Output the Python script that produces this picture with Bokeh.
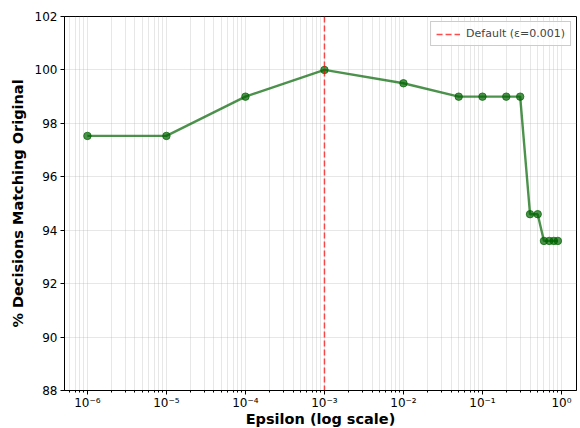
import numpy as np
from bokeh.plotting import figure
from bokeh.models import (FixedTicker, CustomJSTickFormatter, Span, Legend, LegendItem,
                          Range1d)
from bokeh.embed import file_html
from bokeh.resources import INLINE

epsilon = [1e-6, 1e-5, 1e-4, 1e-3, 1e-2, 0.05, 0.1, 0.2, 0.3, 0.4, 0.5, 0.6, 0.7, 0.8, 0.9]
match_pct = [97.53, 97.53, 99.0, 100.0, 99.5, 99.0, 99.0, 99.0, 99.0, 94.6, 94.6, 93.6, 93.6, 93.6, 93.6]
default_eps = 1e-3
x_major = [1e-6, 1e-5, 1e-4, 1e-3, 1e-2, 1e-1, 1e0]
y_ticks = [88, 90, 92, 94, 96, 98, 100, 102]

x_minor = []
for k in range(-7, 1):
    for m in range(2, 10):
        x_minor.append(m * 10.0 ** k)

FONT = "DejaVu Sans"

p = figure(x_axis_type="log",
           x_range=Range1d(10 ** -6.29, 10 ** 0.19), y_range=Range1d(88, 102),
           output_backend="svg", toolbar_location=None,
           min_border_left=64, min_border_top=16, min_border_right=4, min_border_bottom=30)
p.frame_width = 512
p.frame_height = 374
p.outline_line_color = "black"
p.outline_line_width = 1

p.xaxis.ticker = FixedTicker(ticks=x_major, minor_ticks=x_minor)
p.xaxis.formatter = CustomJSTickFormatter(code="""
const e = Math.round(Math.log10(tick));
const sup = {'-':'\u207b','0':'\u2070','1':'\u00b9','2':'\u00b2','3':'\u00b3','4':'\u2074','5':'\u2075','6':'\u2076','7':'\u2077','8':'\u2078','9':'\u2079'};
return '10' + String(e).split('').map(c => sup[c]).join('');
""")
p.yaxis.ticker = FixedTicker(ticks=y_ticks)

for ax in (p.xaxis, p.yaxis):
    ax.major_label_text_font = FONT
    ax.major_label_text_font_size = "12px"
    ax.major_label_text_color = "black"
    ax.axis_label_text_font = FONT
    ax.axis_label_text_font_size = "14.5px"
    ax.axis_label_text_font_style = "bold"
    ax.axis_label_text_color = "black"
    ax.major_tick_in = 0
    ax.major_tick_out = 4
    ax.minor_tick_in = 0
    ax.minor_tick_out = 2
    ax.axis_line_color = "black"
    ax.major_label_standoff = 3
p.xaxis.major_label_standoff = 1
p.yaxis.minor_tick_line_color = None
p.xaxis.axis_label = "Epsilon (log scale)"
p.yaxis.axis_label = "% Decisions Matching Original"
p.xaxis.axis_label_standoff = -2
p.yaxis.axis_label_standoff = 6

p.xgrid.ticker = FixedTicker(ticks=x_major, minor_ticks=x_minor)
p.xgrid.grid_line_color = "#b0b0b0"
p.xgrid.grid_line_alpha = 0.3
p.xgrid.minor_grid_line_color = "#b0b0b0"
p.xgrid.minor_grid_line_alpha = 0.3
p.ygrid.ticker = FixedTicker(ticks=y_ticks)
p.ygrid.grid_line_color = "#b0b0b0"
p.ygrid.grid_line_alpha = 0.3

p.line(epsilon, match_pct, line_color="darkgreen", line_alpha=0.7, line_width=2.4)
p.scatter(epsilon, match_pct, size=7.5, fill_color="darkgreen", line_color="darkgreen",
          fill_alpha=0.7, line_alpha=0.7)

vline = p.line([default_eps, default_eps], [88, 102], line_color="red", line_alpha=0.7,
               line_width=1.5, line_dash="6 3")
vline.visible = False
span = Span(location=default_eps, dimension="height", line_color="red", line_alpha=0.7,
            line_width=1.5, line_dash="6 3")
p.add_layout(span)

legend = Legend(items=[LegendItem(label="Default (\u03b5=0.001)", renderers=[vline])],
                location="top_right", label_text_font=FONT, label_text_font_size="11px",
                border_line_color="#cccccc", border_line_alpha=1, background_fill_alpha=0.8,
                glyph_width=24, glyph_height=10, padding=5, margin=5, spacing=2,
                label_standoff=6)
p.add_layout(legend)

open("out.html", "w").write(file_html(p, INLINE))
